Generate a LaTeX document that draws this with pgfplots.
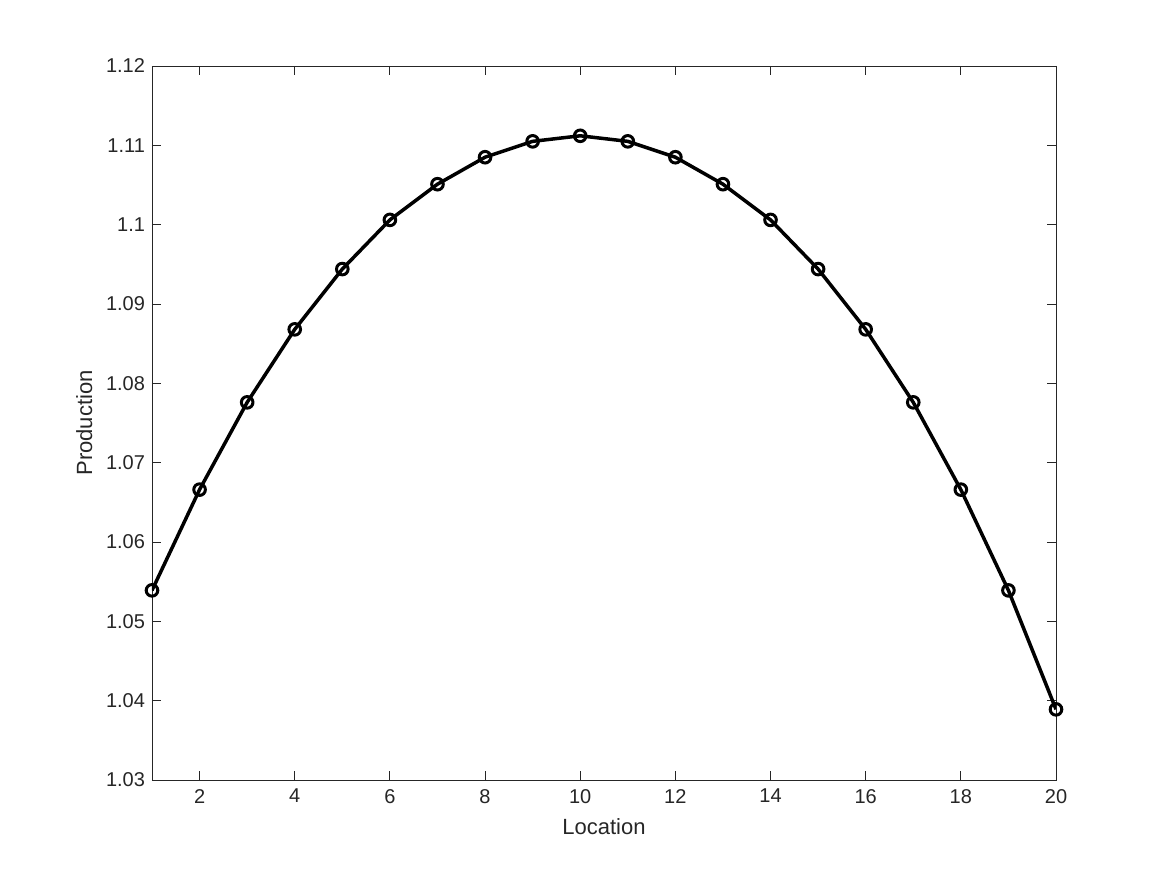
\documentclass[border=0pt]{standalone}
\usepackage{pgfplots}
\pgfplotsset{compat=1.18}
\usepackage{fontspec}
\setmainfont{Liberation Sans}
\begin{document}
\begin{tikzpicture}
\begin{axis}[
  scale only axis,
  width=452pt, height=357pt,
  xmin=1, xmax=20, ymin=1.03, ymax=1.12,
  xtick={2,4,...,20},
  ytick={1.03,1.04,1.05,1.06,1.07,1.08,1.09,1.1,1.11,1.12},
  scaled y ticks=false,
  yticklabel style={/pgf/number format/precision=2},
  /pgf/number format/assume math mode=true,
  tick align=inside,
  major tick length=4.5pt,
  axis line style={draw=black!85, line width=0.45pt},
  tick style={draw=black!85, line width=0.45pt},
  ticklabel style={font=\fontsize{10}{12}\selectfont, text=black!85},
  label style={font=\fontsize{11}{13}\selectfont, text=black!85},
  xticklabel style={yshift=-1pt},
  xlabel={Location},
  ylabel={Production},
  xlabel style={yshift=-1pt},
  ylabel style={yshift=0pt},
]
\addplot[black, line width=1.75pt, mark=o, mark size=2.9pt, mark options={line width=1.5pt}] coordinates {
(1,1.0539) (2,1.0666) (3,1.0776) (4,1.0868) (5,1.0944) (6,1.1006) (7,1.1051) (8,1.1085) (9,1.1105) (10,1.1112)
(11,1.1105) (12,1.1085) (13,1.1051) (14,1.1006) (15,1.0944) (16,1.0868) (17,1.0776) (18,1.0666) (19,1.0539) (20,1.0389)
};
\end{axis}
\path (current axis.south west) ++(-76pt,-47.5pt) coordinate (bl);
\path (current axis.north east) ++(55.5pt,33pt) coordinate (tr);
\path[use as bounding box] (bl) rectangle (tr);
\end{tikzpicture}
\end{document}
